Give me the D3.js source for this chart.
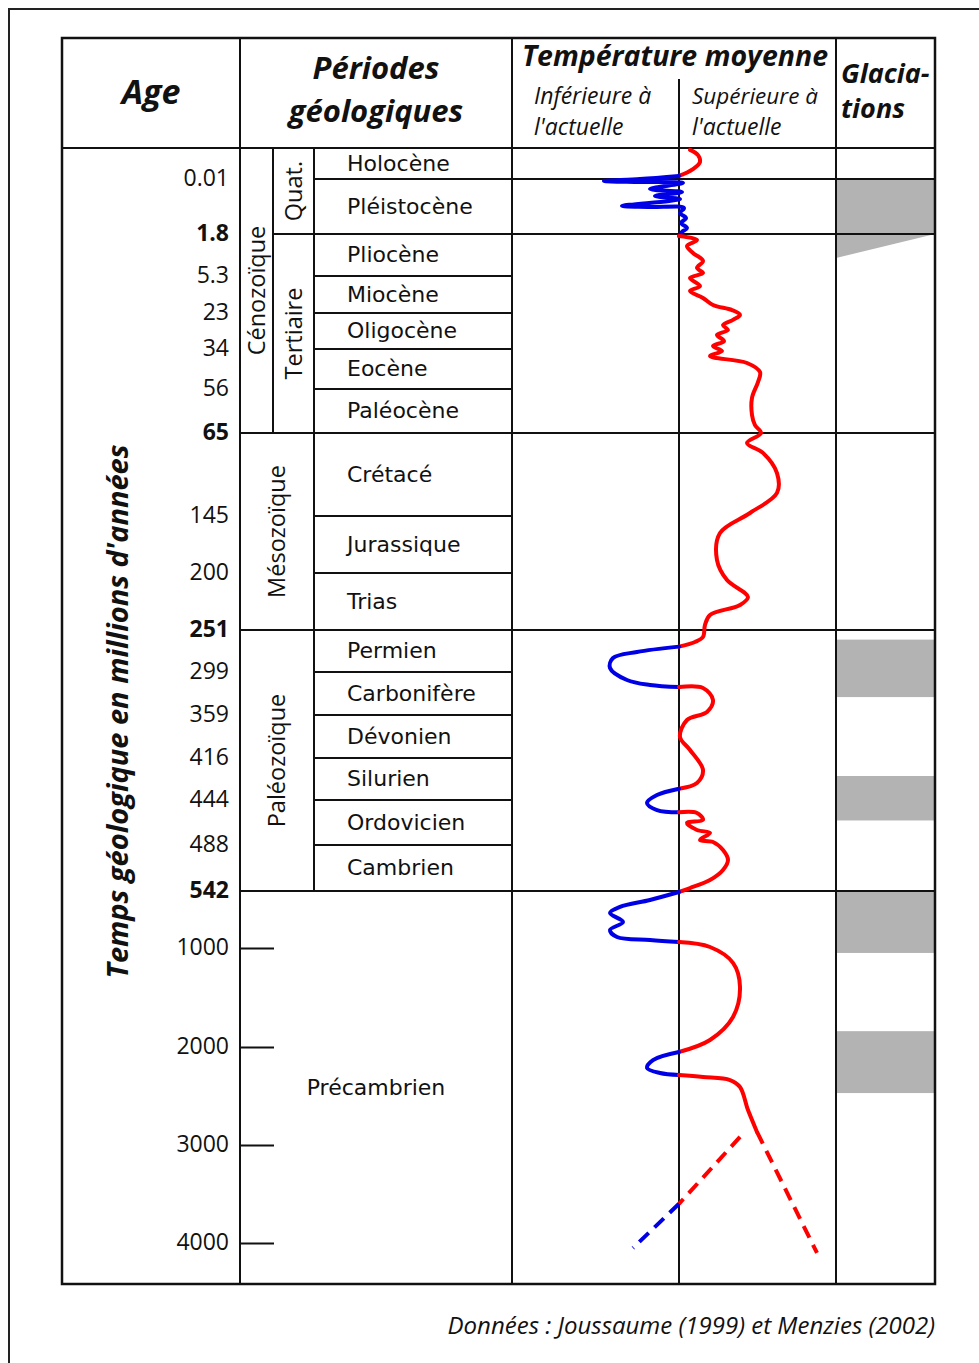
<!DOCTYPE html>
<html lang="fr">
<head>
    <meta charset="utf-8">
    <title>Températures et glaciations</title>
    <script src="https://d3js.org/d3.v7.min.js"></script>
    <style>
        body { margin: 0; background: #fff; }
        svg { display: block; }
    </style>
</head>
<body>
<div id="chart"></div>
<script>
    // ---- data ----
    // period boundaries (Ma), top to bottom
    const boundaryAges = [0, 0.01, 1.8, 5.3, 23, 34, 56, 65, 145, 200, 251, 299, 359, 416, 444, 488, 542];
    const periodNames = ["Holocène", "Pléistocène", "Pliocène", "Miocène", "Oligocène", "Eocène", "Paléocène",
        "Crétacé", "Jurassique", "Trias", "Permien", "Carbonifère", "Dévonien", "Silurien", "Ordovicien", "Cambrien"];
    const eraNames = ["Cénozoïque", "Mésozoïque", "Paléozoïque", "Précambrien"];
    const eraBounds = [0, 65, 251, 542, 4420];
    const subEraNames = ["Quat.", "Tertiaire"];
    const subEraBounds = [0, 1.8, 65];

    // age labels on the left
    const ageLabels = [0.01, 1.8, 5.3, 23, 34, 56, 65, 145, 200, 251, 299, 359, 416, 444, 488, 542, 1000, 2000, 3000, 4000];
    const boldAges = [1.8, 65, 251, 542];
    const precambrianTicks = [1000, 2000, 3000, 4000];

    // glaciations [start, end] in Ma, plus the onset wedge under the Pleistocene
    const glaciations = [[0.01, 1.8], [262, 334], [428, 464], [545, 1050], [1840, 2470]];
    const glaciationOnset = [1.8, 3.8];

    // mean temperature relative to today: [age Ma, anomaly]
    const tempCurve = [
        [0.0006, 0.55], [0.0023, 0.95], [0.0045, 1.05], [0.0068, 0.7], [0.009, 0],
        [0.01, -1.95], [0.075, -3.75], [0.108, -1.95], [0.14, 0.2], [0.336, -1.45], [0.433, 0.15],
        [0.563, -1.2], [0.661, 0.05], [0.889, -2.85], [0.92, -1.45], [0.953, 0.25], [1.116, 0.05],
        [1.279, 0.35], [1.441, 0.1], [1.604, 0.4], [1.734, 0.15], [1.97, 0],
        [2.3, 0.9], [2.8, 0.4], [3.38, 0.7], [4.05, 1.2], [4.63, 0.9], [5.05, 1.2], [6.26, 0.55],
        [10.1, 1.05], [12.5, 0.55], [15.8, 1.2], [19.2, 1.7], [21.6, 2.65], [23.6, 3.05], [25.1, 2.7],
        [26.7, 2.2], [28.2, 2.45], [29.7, 1.9], [31.6, 2.25], [33.1, 1.7], [35.1, 2.15], [37.9, 1.55],
        [41.7, 3.4], [46.7, 4.05], [52.2, 3.95], [57.8, 3.65], [61.3, 3.65], [63.4, 3.8], [65, 4.1],
        [74.6, 3.4], [84.2, 4.2], [103.6, 4.9], [122.8, 4.9], [142.1, 3.55], [161.4, 2.05], [187.5, 1.9],
        [206.3, 2.4], [221.5, 3.45], [228.6, 3.05], [237.6, 1.55], [246.5, 1.3], [259, 1.2], [264.7, 0.8],
        [270, 0],
        [276.1, -2.1], [283, -3.3], [294.4, -3.45], [310.2, -2.6], [317.1, -1.45], [320, 0],
        [321.3, 1.2], [338.1, 1.7], [354.8, 1.4], [365.6, 0.4], [388.2, 0.05], [405.4, 0.55], [424, 1.2],
        [432.7, 0.9], [436.5, 0],
        [440.7, -1.1], [446.9, -1.6], [453.8, -1.1], [456, 0],
        [456.7, 0.9], [463.5, 1.2], [466.5, 0.4], [473.3, 0.9], [476.2, 1.55], [483.1, 1.05], [485.1, 1.7],
        [493.9, 2.2], [505.6, 2.45], [517.3, 2.2], [529.1, 1.55], [538.5, 0.55], [550, 0],
        [614, -1.45], [670, -2.95], [719, -3.45], [791, -2.8], [855, -3.45], [912, -3.1], [936, -1.45], [952, 0],
        [992, 1.55], [1150, 2.7], [1394, 3.05], [1697, 2.7], [1929, 1.55], [2051, 0],
        [2133, -1.3], [2214, -1.6], [2265, -0.95], [2286, 0],
        [2306, 1.2], [2337, 2.55], [2408, 3.05], [2643, 3.45], [2867, 3.9]
    ];
    // parts of the curve colder than today
    const coldIntervals = [[0.009, 1.97], [270, 320], [436.5, 456], [550, 952], [2051, 2286]];
    // uncertain (dashed) Archean branches
    const dashWarmRight = [[2867, 3.9], [4102, 6.9]];
    const dashWarmLeft = [[2918, 3.05], [3600, 0]];
    const dashCold = [[3600, 0], [4051, -2.3]];

    // ---- layout ----
    const W = 979, H = 1363;
    const col = {left: 62, age: 240, era: 273, period: 314, temp: 512, zero: 679, glac: 836, right: 935};
    const tableTop = 38, headBottom = 148, tableBottom = 1284;
    const RED = "#ff0000", BLUE = "#0000e6", GREY = "#b3b3b3", INK = "#111";
    const myriad = "'Open Sans', sans-serif";
    const wide = "'DejaVu Sans', sans-serif";

    const svg = d3.select("#chart").append("svg")
        .attr("width", W)
        .attr("height", H);

    // outer frame
    svg.append("rect")
        .attr("x", 9).attr("y", 9)
        .attr("width", W).attr("height", H)
        .attr("fill", "none").attr("stroke", "#222").attr("stroke-width", 2);

    // piecewise age scale (not proportional, one stop per boundary)
    const y = d3.scaleLinear()
        .domain([0, 0.01, 1.8, 5.3, 23, 34, 56, 65, 145, 200, 251, 299, 359, 416, 444, 488, 542, 1000, 2000, 3000, 4000, 4420])
        .range([148, 179, 234, 276, 313, 349, 389, 433, 516, 573, 630, 672, 715, 758, 800, 845, 891, 948, 1047, 1145, 1243, 1284]);

    // temperature anomaly scale, 0 = today
    const xT = d3.scaleLinear().domain([-8, 8]).range([519, 839]);

    // glaciations
    const glac = svg.append("g");
    glac.selectAll("rect")
        .data(glaciations)
        .join("rect")
        .attr("x", col.glac)
        .attr("y", d => y(d[0]))
        .attr("width", col.right - col.glac)
        .attr("height", d => y(d[1]) - y(d[0]))
        .attr("fill", GREY);
    glac.append("path")
        .attr("d", `M${col.glac},${y(glaciationOnset[0])}L${col.right},${y(glaciationOnset[0])}L${col.glac},${y(glaciationOnset[1])}Z`)
        .attr("fill", GREY);

    // table grid
    const grid = svg.append("g").attr("stroke", INK).attr("stroke-width", 2);
    const hline = (x1, x2, yy) => grid.append("line").attr("x1", x1).attr("x2", x2).attr("y1", yy).attr("y2", yy);
    const vline = (xx, y1, y2) => grid.append("line").attr("x1", xx).attr("x2", xx).attr("y1", y1).attr("y2", y2);

    hline(col.left, col.right, headBottom);
    boundaryAges.slice(1).forEach(b => {
        const x1 = eraBounds.includes(b) ? col.age : (subEraBounds.includes(b) ? col.era : col.period);
        const x2 = (b < 2 || eraBounds.includes(b)) ? col.right : col.temp;
        hline(x1, x2, y(b));
    });
    vline(col.age, tableTop, tableBottom);
    vline(col.era, headBottom, y(65));
    vline(col.period, headBottom, y(542));
    vline(col.temp, tableTop, tableBottom);
    vline(col.zero, 79, tableBottom);
    vline(col.glac, tableTop, tableBottom);
    svg.append("rect")
        .attr("x", col.left).attr("y", tableTop)
        .attr("width", col.right - col.left).attr("height", tableBottom - tableTop)
        .attr("fill", "none").attr("stroke", INK).attr("stroke-width", 2.5);

    // precambrian ticks
    svg.append("g")
        .attr("transform", `translate(${col.age},0)`)
        .call(d3.axisRight(y).tickValues(precambrianTicks).tickSize(34).tickFormat(""))
        .call(g => g.select(".domain").remove())
        .selectAll("line").attr("stroke", INK).attr("stroke-width", 2);

    // age labels
    svg.append("g")
        .attr("transform", `translate(${col.age},0)`)
        .call(d3.axisLeft(y).tickValues(ageLabels).tickSize(0).tickPadding(11).tickFormat(d => String(d)))
        .call(g => g.select(".domain").remove())
        .selectAll("text")
        .attr("dy", "0.28em")
        .attr("font-family", myriad)
        .attr("font-size", 23)
        .attr("fill", INK)
        .attr("font-weight", d => boldAges.includes(d) ? 700 : 400);

    // period names
    svg.append("g").selectAll("text")
        .data(periodNames)
        .join("text")
        .attr("x", col.period + 33)
        .attr("y", (d, i) => (y(boundaryAges[i]) + y(boundaryAges[i + 1])) / 2)
        .attr("dy", "0.34em")
        .attr("font-family", wide)
        .attr("font-size", 22)
        .attr("fill", INK)
        .text(d => d);

    // eras (vertical), précambrien horizontal
    const vtext = (txt, cx, cy) => svg.append("text")
        .attr("transform", `translate(${cx},${cy}) rotate(-90)`)
        .attr("text-anchor", "middle").attr("dy", "0.35em")
        .attr("font-family", myriad).attr("font-size", 23.5).attr("fill", INK)
        .text(txt);
    vtext(eraNames[0], (col.age + col.era) / 2, (y(eraBounds[0]) + y(eraBounds[1])) / 2);
    vtext(eraNames[1], (col.age + col.period) / 2, (y(eraBounds[1]) + y(eraBounds[2])) / 2);
    vtext(eraNames[2], (col.age + col.period) / 2, (y(eraBounds[2]) + y(eraBounds[3])) / 2);
    subEraNames.forEach((n, i) => vtext(n, (col.era + col.period) / 2, (y(subEraBounds[i]) + y(subEraBounds[i + 1])) / 2));
    svg.append("text")
        .attr("x", (col.age + col.temp) / 2)
        .attr("y", (y(eraBounds[3]) + y(eraBounds[4])) / 2)
        .attr("dy", "0.34em")
        .attr("text-anchor", "middle")
        .attr("font-family", wide).attr("font-size", 22).attr("fill", INK)
        .text(eraNames[3]);

    // temperature curve, split into warm (red) and cold (blue) pieces
    const line = d3.line()
        .x(d => xT(d[1]))
        .y(d => y(d[0]))
        .curve(d3.curveCatmullRom.alpha(0.5));
    const isCold = a => coldIntervals.some(([lo, hi]) => a >= lo && a <= hi);
    const pieces = [];
    for (let i = 0; i < tempCurve.length - 1; i++) {
        const a = tempCurve[i], b = tempCurve[i + 1];
        const cold = isCold((a[0] + b[0]) / 2);
        const last = pieces[pieces.length - 1];
        if (last && last.cold === cold) last.pts.push(b);
        else pieces.push({cold, pts: [a, b]});
    }
    const curves = svg.append("g")
        .attr("fill", "none")
        .attr("stroke-width", 4)
        .attr("stroke-linecap", "round")
        .attr("stroke-linejoin", "round");
    curves.selectAll("path.solid")
        .data(pieces)
        .join("path")
        .attr("class", "solid")
        .attr("stroke", d => d.cold ? BLUE : RED)
        .attr("d", d => line(d.pts));
    const dashed = [
        {pts: dashWarmRight, color: RED},
        {pts: dashWarmLeft, color: RED},
        {pts: dashCold, color: BLUE}
    ];
    curves.selectAll("path.dash")
        .data(dashed)
        .join("path")
        .attr("class", "dash")
        .attr("stroke", d => d.color)
        .attr("stroke-linecap", "butt")
        .attr("stroke-dasharray", "13,8")
        .attr("d", d => d3.line().x(p => xT(p[1])).y(p => y(p[0]))(d.pts));

    // headers
    const txt = (s, x, yy, opt = {}) => svg.append("text")
        .attr("x", x).attr("y", yy)
        .attr("text-anchor", opt.anchor || "start")
        .attr("font-family", myriad)
        .attr("font-size", opt.size || 22)
        .attr("font-weight", opt.weight || 400)
        .attr("font-style", opt.style || "normal")
        .attr("fill", INK)
        .text(s);
    const bi = {weight: 700, style: "italic"};
    txt("Age", (col.left + col.age) / 2, 104, {...bi, anchor: "middle", size: 34});
    txt("Périodes", 376, 79, {...bi, anchor: "middle", size: 31});
    txt("géologiques", 376, 122, {...bi, anchor: "middle", size: 31});
    txt("Température moyenne", (col.temp + col.glac) / 2 + 1, 66, {...bi, anchor: "middle", size: 28.5});
    txt("Inférieure à", 534, 104, {style: "italic", size: 23});
    txt("l'actuelle", 534, 135, {style: "italic", size: 23});
    txt("Supérieure à", 692, 104, {style: "italic", size: 22.5});
    txt("l'actuelle", 692, 135, {style: "italic", size: 23});
    txt("Glacia-", 841, 83, {...bi, size: 27});
    txt("tions", 841, 118, {...bi, size: 27});

    // vertical axis title
    svg.append("text")
        .attr("transform", `translate(118,${(445 + 978) / 2}) rotate(-90)`)
        .attr("text-anchor", "middle").attr("dy", "0.35em")
        .attr("font-family", myriad).attr("font-size", 29)
        .attr("font-weight", 700).attr("font-style", "italic")
        .attr("fill", INK)
        .text("Temps géologique en millions d'années");

    // source
    txt("Données : Joussaume (1999) et Menzies (2002)", col.right, 1334, {style: "italic", size: 24, anchor: "end"});
</script>
</body>
</html>
